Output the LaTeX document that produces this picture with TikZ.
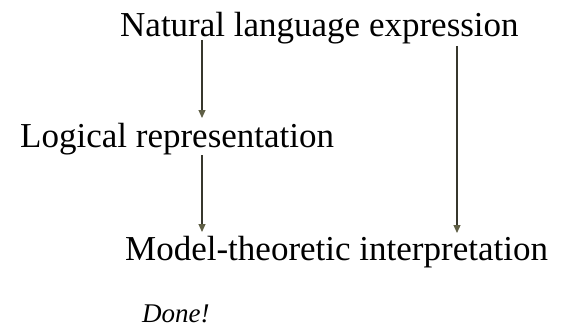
\documentclass[tikz,border=0pt]{standalone}
\usepackage{fontspec}
\setmainfont{Liberation Serif}
\definecolor{arrgray}{RGB}{55,55,45}
\definecolor{tipolive}{RGB}{95,95,70}
\usetikzlibrary{arrows.meta,positioning,calc}

\begin{document}
\begin{tikzpicture}[
  x=1pt,y=-1pt,
  lbl/.style={inner sep=0pt,anchor=base west,font=\fontsize{35}{40}\selectfont},
  arr/.style={-{Triangle[length=8pt,width=7pt,fill=tipolive,color=tipolive]},line width=1.2pt,arrgray}
]
  \useasboundingbox (0,0) rectangle (565,329);
  % Labels
  \node[lbl] (nle) at (120,37) {Natural language expression};
  \node[lbl] (lr) at (20,147) {Logical representation};
  \node[lbl] (mti) at (125,260) {Model-theoretic interpretation};
  \node[lbl,font=\fontsize{27}{30}\selectfont\itshape] (done) at (142,322) {Done!};
  % Arrows
  \draw[arr] ($(nle.base west)+(82,3)$) -- ($(lr.base west)+(182,-29)$);
  \draw[arr] ($(lr.base west)+(182,8)$) -- ($(mti.base west)+(77,-28)$);
  \draw[arr] ($(nle.base west)+(337,9)$) -- ($(mti.base west)+(332,-27)$);
\end{tikzpicture}
\end{document}
